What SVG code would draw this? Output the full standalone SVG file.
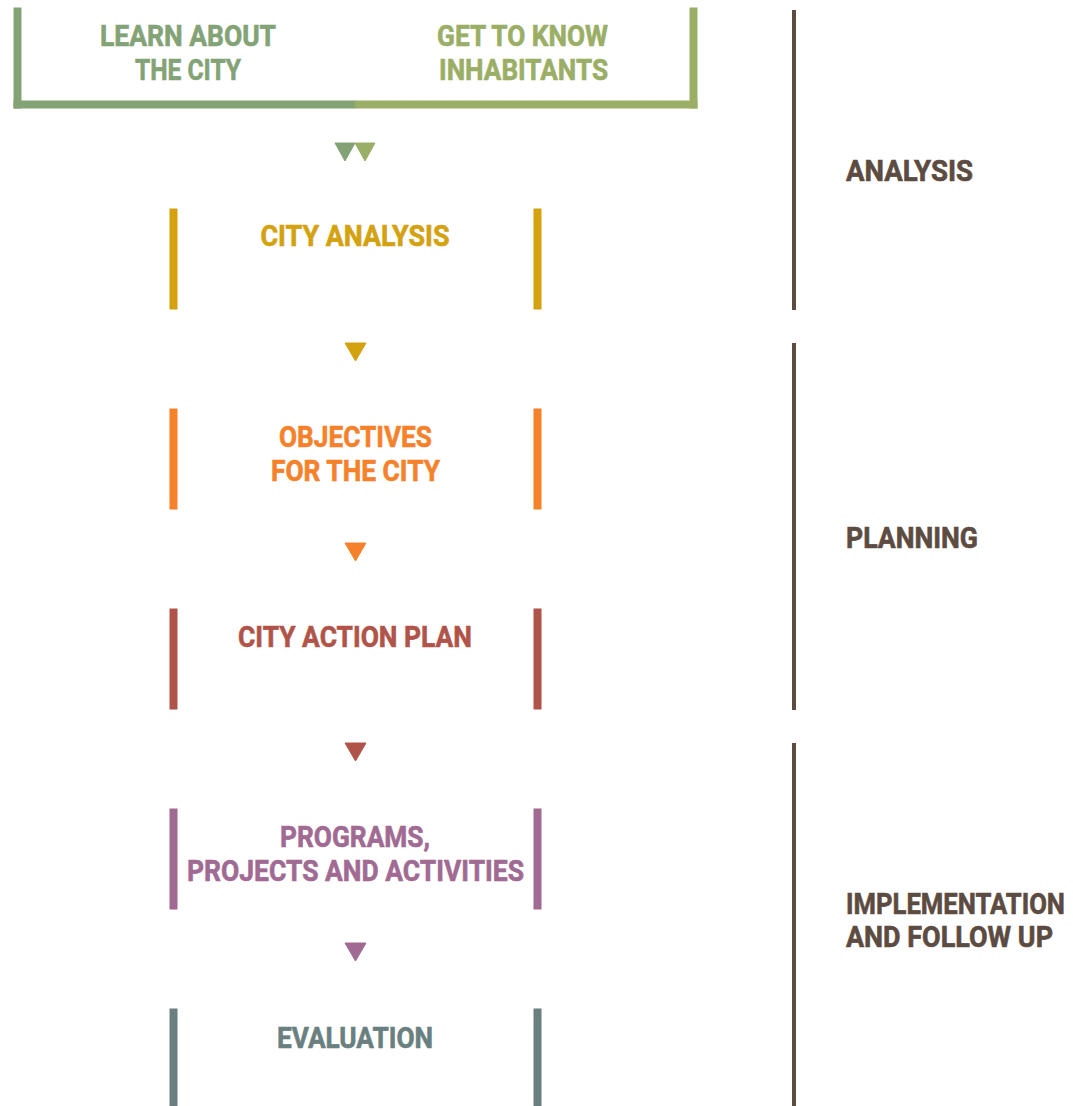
<svg xmlns="http://www.w3.org/2000/svg" width="1073" height="1106" viewBox="0 0 1073 1106">
  <style>
    text { font-family: Roboto, "DejaVu Sans Condensed", "Liberation Sans", sans-serif; font-weight: 700; font-size: 29px; text-anchor: middle; stroke-width: 0.6px; }
    rect, polygon { stroke: none; }
    .phase text { text-anchor: start; fill: #5c4b41; stroke: #5c4b41; }
    .rail { fill: #5c4b41; }
    .g1 { fill: #83a376; stroke: #83a376; }
    .g2 { fill: #9bae66; stroke: #9bae66; }
    .mus { fill: #d4a10f; stroke: #d4a10f; }
    .org { fill: #f5822b; stroke: #f5822b; }
    .brk { fill: #b0544a; stroke: #b0544a; }
    .pur { fill: #a06a93; stroke: #a06a93; }
    .sla { fill: #6a7f80; stroke: #6a7f80; }
  </style>
  <rect width="1073" height="1106" fill="#ffffff"/>

  <!-- top source bracket: two inputs sharing one frame -->
  <g id="learn-about-the-city">
    <rect class="g1" x="14" y="8" width="7" height="100"/>
    <rect class="g1" x="14" y="101" width="341" height="7"/>
    <text class="g1" x="188" y="46" textLength="176" lengthAdjust="spacingAndGlyphs">LEARN ABOUT</text>
    <text class="g1" x="188" y="80" textLength="106" lengthAdjust="spacingAndGlyphs">THE CITY</text>
  </g>
  <g id="get-to-know-inhabitants">
    <rect class="g2" x="355" y="101" width="342" height="7"/>
    <rect class="g2" x="690" y="8" width="7" height="100"/>
    <text class="g2" x="522.5" y="46" textLength="171" lengthAdjust="spacingAndGlyphs">GET TO KNOW</text>
    <text class="g2" x="523.5" y="80" textLength="169" lengthAdjust="spacingAndGlyphs">INHABITANTS</text>
  </g>

  <g id="city-analysis">
    <rect class="mus" x="170" y="209" width="7" height="100"/>
    <rect class="mus" x="534" y="209" width="7" height="100"/>
    <text class="mus" x="355" y="246" textLength="189" lengthAdjust="spacingAndGlyphs">CITY ANALYSIS</text>
  </g>

  <g id="objectives-for-the-city">
    <rect class="org" x="170" y="409" width="7" height="100"/>
    <rect class="org" x="534" y="409" width="7" height="100"/>
    <text class="org" x="355.5" y="447" textLength="153" lengthAdjust="spacingAndGlyphs">OBJECTIVES</text>
    <text class="org" x="355.5" y="481" textLength="169" lengthAdjust="spacingAndGlyphs">FOR THE CITY</text>
  </g>

  <g id="city-action-plan">
    <rect class="brk" x="170" y="609" width="7" height="100"/>
    <rect class="brk" x="534" y="609" width="7" height="100"/>
    <text class="brk" x="355" y="647" textLength="234" lengthAdjust="spacingAndGlyphs">CITY ACTION PLAN</text>
  </g>

  <g id="programs-projects-activities">
    <rect class="pur" x="170" y="809" width="7" height="100"/>
    <rect class="pur" x="534" y="809" width="7" height="100"/>
    <text class="pur" x="355" y="847" textLength="150" lengthAdjust="spacingAndGlyphs">PROGRAMS,</text>
    <text class="pur" x="355.5" y="881" textLength="337" lengthAdjust="spacingAndGlyphs">PROJECTS AND ACTIVITIES</text>
  </g>

  <g id="evaluation">
    <rect class="sla" x="170" y="1009" width="7" height="97"/>
    <rect class="sla" x="534" y="1009" width="7" height="97"/>
    <text class="sla" x="355" y="1048" textLength="156" lengthAdjust="spacingAndGlyphs">EVALUATION</text>
  </g>

  <!-- flow arrows between steps -->
  <g id="connectors">
    <polygon class="g1" points="335,143 355,143 345,161"/>
    <polygon class="g2" points="355,143 375,143 365,161"/>
    <polygon class="mus" points="345,343 366,343 355.5,361"/>
    <polygon class="org" points="345,543 366,543 355.5,561"/>
    <polygon class="brk" points="345,743 366,743 355.5,761"/>
    <polygon class="pur" points="345,943 366,943 355.5,961"/>
  </g>

  <!-- phase rails on the right -->
  <g id="phase-analysis" class="phase">
    <rect class="rail" x="792" y="10" width="4" height="300"/>
    <text x="846" y="181" textLength="127" lengthAdjust="spacingAndGlyphs">ANALYSIS</text>
  </g>
  <g id="phase-planning" class="phase">
    <rect class="rail" x="792" y="343" width="4" height="367"/>
    <text x="846" y="548" textLength="132" lengthAdjust="spacingAndGlyphs">PLANNING</text>
  </g>
  <g id="phase-implementation" class="phase">
    <rect class="rail" x="792" y="743" width="4" height="363"/>
    <!-- long label narrowed horizontally so it stays inside the right edge -->
    <g transform="translate(846 914) scale(0.89 1)">
      <text x="0" y="0" textLength="246" lengthAdjust="spacingAndGlyphs">IMPLEMENTATION</text>
    </g>
    <text x="846" y="947" textLength="207" lengthAdjust="spacingAndGlyphs">AND FOLLOW UP</text>
  </g>
</svg>
